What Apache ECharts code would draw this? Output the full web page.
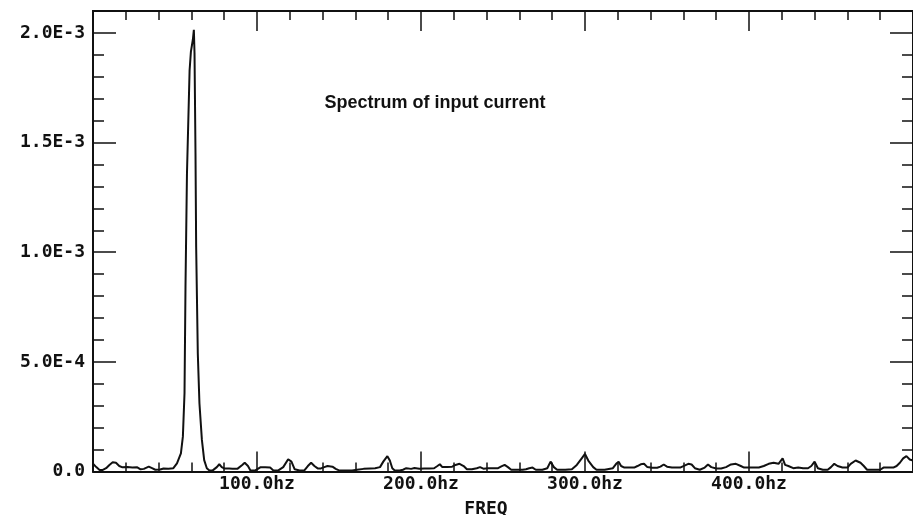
<!DOCTYPE html>
<html>
<head>
<meta charset="utf-8">
<script src="https://cdn.jsdelivr.net/npm/echarts@6/dist/echarts.min.js"></script>
<style>
html,body{margin:0;padding:0;background:#fff;}
#c{width:913px;height:515px;}
</style>
</head>
<body>
<div id="c"></div>
<script>
// Frequency samples (hz)
const freqHz = [
  0, 2, 4, 6, 8, 10, 12, 14, 16, 18, 21, 24, 27, 29, 31, 34, 36, 38, 41, 43, 46, 49, 51.2, 53.6, 54.8, 55.8, 56.4, 57.3, 58.9, 59.7, 60.9, 61.5,
  61.9, 62.5, 62.9, 63.9, 64.9, 66.4, 67.8, 69.4,
  71, 73, 75.5, 77, 78.5, 80, 83, 85, 88, 91, 92.5, 94.5, 96, 99, 102, 105, 108, 110, 113, 116, 119, 121, 123, 126, 129, 131, 133, 135, 137, 139,
  141, 143, 146, 148, 150, 154, 158, 161, 165, 169, 172, 175, 177, 179.5, 181, 182.5, 184, 187, 189, 191, 194, 196, 199,
  202, 205, 208, 210, 211.5, 213, 216, 219, 221, 223.5, 226, 228, 231, 234, 236, 238, 241, 244, 247, 249, 251, 253, 255, 258, 262, 264, 266, 268,
  270, 274, 277, 279, 281, 283, 288, 292, 295, 298, 300, 302, 305, 307, 312, 317, 319, 320.5, 322, 324, 327, 330, 332, 334, 336, 338, 341, 344,
  346, 348, 350, 353, 356, 358, 361, 363, 365, 367, 370, 373, 375, 377, 380, 383, 386, 389, 392, 395, 397, 400, 403, 406, 409, 412, 415, 418,
  420.5, 422, 424, 427, 430, 433, 436, 438, 440, 442, 445, 448, 450, 452, 454, 457, 460, 462, 465, 468, 470, 472, 476, 480, 482, 485, 488, 490,
  492, 494, 496, 498, 500
];
// Spectrum amplitude (A) at each frequency
const amplitude = [
  3.5e-5, 2e-5, 0.7e-5, 0.7e-5, 1.5e-5, 3e-5, 4.2e-5, 4e-5, 2.5e-5, 1.9e-5, 2e-5, 1.8e-5, 1.9e-5, 1e-5, 1.2e-5, 2.2e-5, 1.5e-5, 0.8e-5, 0.9e-5, 1.4e-5, 1.3e-5, 1.5e-5, 3.7e-5, 8.3e-5, 15.9e-5, 35.7e-5, 84.3e-5, 136e-5, 183e-5, 191.5e-5, 197e-5, 201.4e-5,
  190.8e-5, 145e-5, 102.6e-5, 53.9e-5, 31.1e-5, 14.4e-5, 5.2e-5, 1.5e-5,
  0.5e-5, 0.5e-5, 2e-5, 3.3e-5, 2e-5, 1.4e-5, 1.4e-5, 1.3e-5, 1.2e-5, 3e-5, 4e-5, 2.5e-5, 0.5e-5, 0.5e-5, 1.9e-5, 1.9e-5, 1.8e-5, 0.5e-5, 0.5e-5, 2e-5, 5.6e-5, 4.5e-5, 1e-5, 0.5e-5, 0.6e-5, 2.5e-5, 4e-5, 2.5e-5, 1.4e-5, 1.4e-5,
  2e-5, 2.5e-5, 2.2e-5, 1.2e-5, 0.5e-5, 0.5e-5, 0.5e-5, 0.8e-5, 1.2e-5, 1.4e-5, 1.5e-5, 2e-5, 4.5e-5, 7e-5, 5e-5, 1.5e-5, 0.5e-5, 0.5e-5, 0.8e-5, 1.5e-5, 1.2e-5, 1.6e-5, 1.3e-5,
  1.4e-5, 1.4e-5, 1.5e-5, 2.5e-5, 3.3e-5, 2e-5, 2e-5, 2.2e-5, 3e-5, 3.5e-5, 2.5e-5, 1e-5, 1e-5, 1.5e-5, 2e-5, 1.3e-5, 1.5e-5, 1.5e-5, 1.5e-5, 2.3e-5, 3e-5, 2e-5, 0.8e-5, 0.8e-5, 0.8e-5, 1e-5, 1.5e-5, 1.8e-5,
  0.8e-5, 0.8e-5, 1.5e-5, 4.5e-5, 2e-5, 0.8e-5, 0.8e-5, 1e-5, 3e-5, 6e-5, 8e-5, 5e-5, 2e-5, 0.8e-5, 0.8e-5, 1.5e-5, 3.5e-5, 4.5e-5, 2.5e-5, 1.8e-5, 1.8e-5, 1.8e-5, 2.5e-5, 3.3e-5, 3.5e-5, 2e-5, 1.7e-5, 1.7e-5,
  2.2e-5, 3.2e-5, 2.2e-5, 1.8e-5, 1.8e-5, 1.8e-5, 2.8e-5, 3.5e-5, 3.2e-5, 1.5e-5, 0.8e-5, 1.8e-5, 3.2e-5, 2e-5, 1.4e-5, 1.4e-5, 2e-5, 3.2e-5, 3.5e-5, 2.5e-5, 1.8e-5, 1.8e-5, 1.8e-5, 1.8e-5, 2.5e-5, 3.5e-5, 4e-5, 3.5e-5,
  6e-5, 3e-5, 2.5e-5, 1.5e-5, 1.8e-5, 1.5e-5, 1.5e-5, 2.5e-5, 4.5e-5, 1.5e-5, 0.8e-5, 0.8e-5, 2e-5, 3.5e-5, 2.5e-5, 1.8e-5, 1.8e-5, 3.5e-5, 5e-5, 4e-5, 2.5e-5, 0.8e-5, 0.8e-5, 0.8e-5, 1.8e-5, 1.8e-5, 1.8e-5, 2.5e-5,
  4e-5, 6e-5, 7e-5, 5.5e-5, 5e-5
];
// Tick labels
const xTickValues = [100, 200, 300, 400];
const xTickLabels = ['100.0hz', '200.0hz', '300.0hz', '400.0hz'];
const yTickValues = [0, 5e-4, 1e-3, 1.5e-3, 2e-3];
const yTickLabels = ['0.0', '5.0E-4', '1.0E-3', '1.5E-3', '2.0E-3'];
const chartTitle = 'Spectrum of input current';
const xAxisName = 'FREQ';

const seriesData = freqHz.map((f, i) => [f, amplitude[i]]);

const monoFont = '"DejaVu Sans Mono", "Liberation Mono", monospace';
const ink = '#111';

function xLabel(v) {
  for (let i = 0; i < xTickValues.length; i++) if (Math.abs(v - xTickValues[i]) < 1e-6) return xTickLabels[i];
  return '';
}
function yLabel(v) {
  for (let i = 0; i < yTickValues.length; i++) if (Math.abs(v - yTickValues[i]) < 1e-9) return yTickLabels[i];
  return '';
}

const xBase = {
  type: 'value', min: 0, max: 500, interval: 100, offset: 0,
  axisLine: { show: true, onZero: false, lineStyle: { color: ink, width: 2 } },
  axisTick: { show: true, inside: true, length: 20, lineStyle: { color: ink, width: 1.5 } },
  minorTick: { show: true, splitNumber: 5, length: 9, lineStyle: { color: ink, width: 1.5 } },
  splitLine: { show: false }, minorSplitLine: { show: false }
};
const yMinor = {
  type: 'value', min: 0, max: 2.1e-3, interval: 1e-4, offset: 0,
  axisLine: { show: true, onZero: false, lineStyle: { color: ink, width: 2 } },
  axisTick: { show: true, inside: true, length: 11, lineStyle: { color: ink, width: 1.5 } },
  splitLine: { show: false }
};
const yMajor = {
  type: 'value', min: 0, max: 2.1e-3, interval: 5e-4, offset: 0,
  axisLine: { show: true, onZero: false, lineStyle: { color: ink, width: 2 } },
  axisTick: { show: true, inside: true, length: 23, lineStyle: { color: ink, width: 1.5 } },
  axisLabel: { show: false },
  splitLine: { show: false }
};

const chart = echarts.init(document.getElementById('c'), null, { renderer: 'canvas' });
chart.setOption({
  animation: false,
  backgroundColor: '#fff',
  title: [
    { text: chartTitle, left: 430, top: 89, textAlign: 'center',
      textStyle: { fontFamily: '"Liberation Sans", Arial, sans-serif', fontWeight: 'bold', fontSize: 18, color: ink } },
    { text: xAxisName, left: 481, top: 495, textAlign: 'center',
      textStyle: { fontFamily: monoFont, fontWeight: 'bold', fontSize: 18, color: ink } }
  ],
  grid: { left: 93, right: -2, top: 11, bottom: 43.5, containLabel: false },
  xAxis: [
    Object.assign({}, xBase, { position: 'bottom',
      axisLabel: { show: true, margin: 4, formatter: xLabel, fontFamily: monoFont, fontWeight: 'bold', fontSize: 18, color: ink,
        showMinLabel: false, showMaxLabel: false } }),
    Object.assign({}, xBase, { position: 'top', axisLabel: { show: false } })
  ],
  yAxis: [
    Object.assign({}, yMinor, { position: 'left',
      axisLabel: { show: true, margin: 8, formatter: yLabel, fontFamily: monoFont, fontWeight: 'bold', fontSize: 18, color: ink } }),
    Object.assign({}, yMajor, { position: 'left' }),
    Object.assign({}, yMinor, { position: 'right', axisLabel: { show: false } }),
    Object.assign({}, yMajor, { position: 'right' })
  ],
  series: [{
    type: 'line', xAxisIndex: 0, yAxisIndex: 0, data: seriesData,
    showSymbol: false, symbol: 'none', smooth: false,
    lineStyle: { color: ink, width: 2 }
  }]
});
</script>
</body>
</html>
